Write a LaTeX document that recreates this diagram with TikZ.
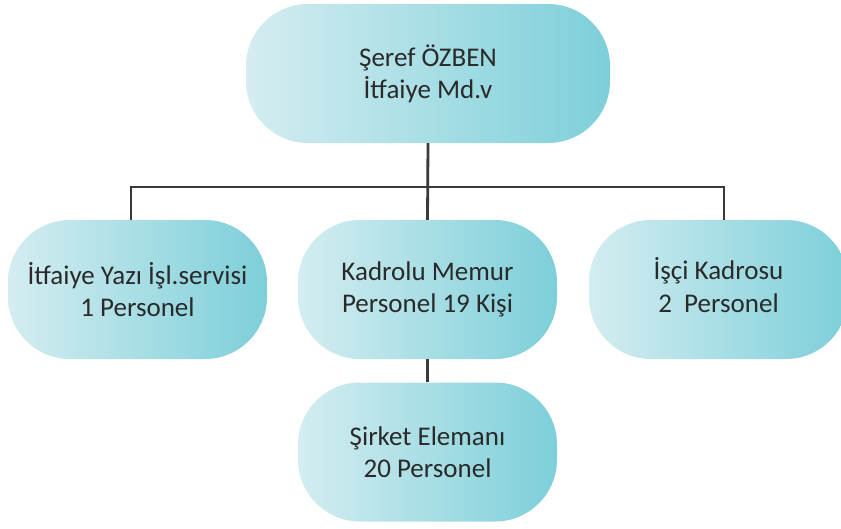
\documentclass[tikz,border=0pt]{standalone}
\usepackage{fontspec}
\setmainfont{Carlito}
\definecolor{lightc}{HTML}{D4EDF1}
\definecolor{darkc}{HTML}{7DCFD9}
\definecolor{linec}{HTML}{3A3A3A}
\definecolor{textc}{HTML}{2A2A2A}
\begin{document}
\begin{tikzpicture}[x=1pt,y=-1pt,
  pill/.style={rounded corners=62pt, left color=lightc, right color=darkc, draw=none,
    minimum width=259pt, minimum height=139pt, align=center, text=textc,
    font=\fontsize{27}{32}\selectfont},
  conn/.style={draw=linec, line width=2.8pt}]
\useasboundingbox (0,0) rectangle (841,528);
\clip (0,0) rectangle (841,528);
\node[pill, minimum width=364pt] (top) at (428,73.5) {Şeref ÖZBEN\\İtfaiye Md.v};
\node[pill] (left) at (137.5,289.5) {İtfaiye Yazı İşl.servisi\\1 Personel};
\node[pill] (mid) at (427.5,289.5) {Kadrolu Memur\\Personel 19 Kişi};
\node[pill] (right) at (718.5,289.5) {\raisebox{8pt}{\begin{tabular}{@{}c@{}}İşçi Kadrosu\\[1pt]2\ \ Personel\end{tabular}}};
\node[pill] (bot) at (427.5,452) {Şirket Elemanı\\20 Personel};
\coordinate (bus) at (428,187);
\coordinate (lt) at ([xshift=-6.5pt]left.north);
\coordinate (rt) at ([xshift=5.5pt]right.north);
\draw[conn] (top.south) -- (mid.north);
\draw[conn] (lt) -- (lt |- bus) -- (rt |- bus) -- (rt);
\draw[conn] (mid.south) -- (bot.north);
\end{tikzpicture}
\end{document}
